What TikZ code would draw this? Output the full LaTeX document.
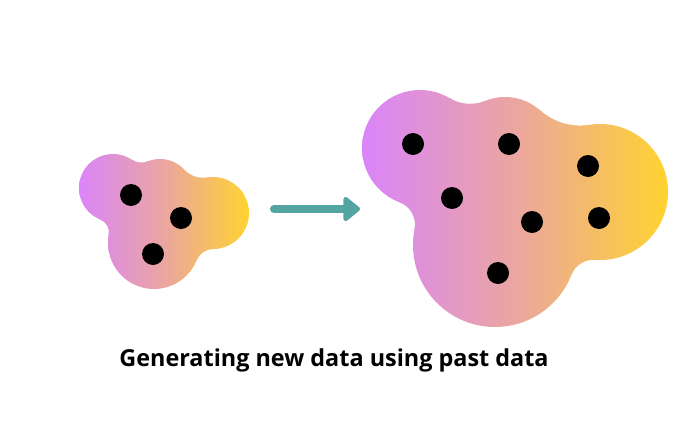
\documentclass[tikz,border=0pt]{standalone}
\usepackage{fontspec}
\setmainfont{Open Sans}
\usetikzlibrary{arrows.meta}
\definecolor{blobviolet}{RGB}{218,132,250}
\definecolor{blobpink}{RGB}{234,166,160}
\definecolor{blobyellow}{RGB}{255,211,48}
\definecolor{arrowteal}{RGB}{84,165,162}
\tikzset{
  blobshade/.style={left color=blobviolet, right color=blobyellow, middle color=blobpink, draw=none},
  datadot/.style={circle, fill=black, inner sep=0pt, minimum size=22pt},
  flowarrow/.style={draw=arrowteal, line width=8pt, line cap=round, line join=round,
    -{Triangle[length=18pt,width=28pt,round]}},
  caption/.style={font=\bfseries\fontsize{23.4}{28}\selectfont, anchor=base}
}
\newcommand\shaderect{\shade[blobshade] (\bxa,\bya) rectangle (\bxb,\byb);}
\newcommand\lobe[3]{\begin{scope}\clip (#1,#2) circle[radius=#3pt];\shaderect\end{scope}}
\newcommand\fillet[7]{%
 \pgfmathsetmacro\fdx{(#4-#1)/10}%
 \pgfmathsetmacro\fdy{(#5-#2)/10}%
 \pgfmathsetmacro\fd{sqrt(\fdx*\fdx+\fdy*\fdy)}%
 \pgfmathsetmacro\fa{(#3+#7)/10}%
 \pgfmathsetmacro\fb{(#6+#7)/10}%
 \pgfmathsetmacro\fx{(\fa*\fa-\fb*\fb+\fd*\fd)/(2*\fd)}%
 \pgfmathsetmacro\fh{sqrt(\fa*\fa-\fx*\fx)}%
 \pgfmathsetmacro\ux{\fdx/\fd}%
 \pgfmathsetmacro\uy{\fdy/\fd}%
 \pgfmathsetmacro\Fx{#1+10*(\fx*\ux+\fh*\uy)}%
 \pgfmathsetmacro\Fy{#2+10*(\fx*\uy-\fh*\ux)}%
 \pgfmathsetmacro\angA{atan2(#2-\Fy,#1-\Fx)}%
 \pgfmathsetmacro\angB{atan2(#5-\Fy,#4-\Fx)}%
 \pgfmathsetmacro\angD{mod(\angB-\angA+540,360)-180}%
 \pgfmathsetmacro\Tx{\Fx+#7*cos(\angA)}%
 \pgfmathsetmacro\Ty{\Fy+#7*sin(\angA)}%
 \begin{scope}
 \clip (#1,#2) -- (\Tx,\Ty) arc[start angle=\angA, delta angle=\angD, radius=#7] -- (#4,#5) -- cycle;
 \shaderect
 \end{scope}}
\begin{document}
\begin{tikzpicture}[x=1pt,y=-1pt]
\useasboundingbox (0,0) rectangle (700,420);
% small blob
\def\bxa{78}\def\bxb{249}\def\bya{150}\def\byb{292}
\lobe{113}{188}{34}
\lobe{160}{192}{33}
\lobe{213}{213}{36}
\lobe{154}{243}{46}
\fillet{113}{188}{34}{160}{192}{33}{18}
\fillet{160}{192}{33}{213}{213}{36}{26}
\fillet{213}{213}{36}{154}{243}{46}{18}
\fillet{154}{243}{46}{113}{188}{34}{14}
% big blob
\def\bxa{362}\def\bxb{668}\def\bya{86}\def\byb{330}
\lobe{420}{148}{58}
\lobe{505}{150}{53}
\lobe{600}{192}{68}
\lobe{495}{245}{82}
\fillet{420}{148}{58}{505}{150}{53}{40}
\fillet{505}{150}{53}{600}{192}{68}{60}
\fillet{600}{192}{68}{495}{245}{82}{24}
\fillet{495}{245}{82}{420}{148}{58}{24}
% dots small
\node[datadot] (s1) at (131,195) {};
\node[datadot] (s2) at (181,218) {};
\node[datadot] (s3) at (153,254) {};
% dots big
\node[datadot] (b1) at (413,144) {};
\node[datadot] (b2) at (509,144) {};
\node[datadot] (b3) at (588,166) {};
\node[datadot] (b4) at (452,198) {};
\node[datadot] (b5) at (532,222) {};
\node[datadot] (b6) at (599,218) {};
\node[datadot] (b7) at (498,273) {};
% arrow
\coordinate (a1) at (274,209);
\coordinate (a2) at (360,209);
\draw[flowarrow] (a1) -- (a2);
% caption
\node[caption] (cap) at (334,366) {Generating new data using past data};
\end{tikzpicture}
\end{document}
